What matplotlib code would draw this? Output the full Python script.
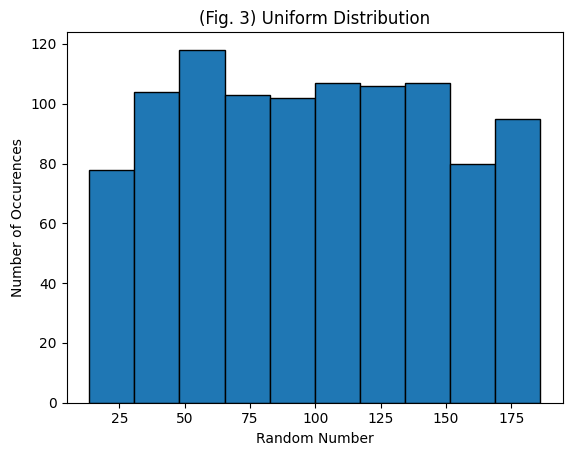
import numpy as np
import matplotlib.pyplot as plt

# histogram bins
bin_edges = np.linspace(13.5, 186.1, 11)
counts = [78, 104, 118, 103, 102, 107, 106, 107, 80, 95]

centers = (bin_edges[:-1] + bin_edges[1:]) / 2

fig = plt.figure(figsize=(5.71, 4.55), dpi=100)
ax = fig.add_axes([66.7 / 571, 1 - 402.7 / 455, 496 / 571, 370.4 / 455])

ax.hist(centers, bins=bin_edges, weights=counts, edgecolor='black')
ax.set_title('(Fig. 3) Uniform Distribution')
ax.set_xlabel('Random Number')
ax.set_ylabel('Number of Occurences')

fig.savefig('out.png', dpi=100)
